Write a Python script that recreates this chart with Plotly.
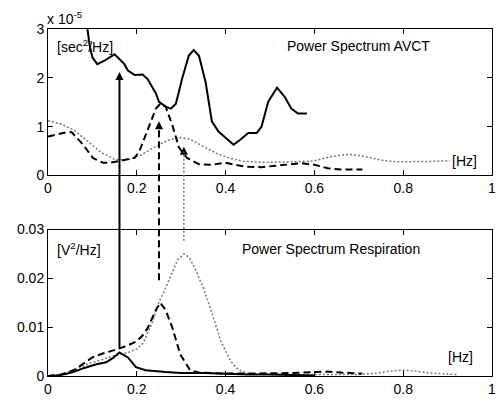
import plotly.graph_objects as go

# ---------------- data ----------------
# Top panel: Power Spectrum AVCT (values in units of 1e-5 sec^2/Hz)
top_solid_x = [0.083, 0.089, 0.094, 0.100, 0.111, 0.127, 0.15, 0.172, 0.18, 0.195, 0.213, 0.224,
               0.243, 0.25, 0.265, 0.277, 0.288, 0.302, 0.317, 0.328, 0.34, 0.355, 0.369, 0.384,
               0.40, 0.418, 0.433, 0.447, 0.451, 0.47, 0.481, 0.496, 0.516, 0.533, 0.548, 0.563, 0.583]
top_solid_y = [3.4, 3.0, 2.65, 2.42, 2.28, 2.35, 2.48, 2.28, 2.15, 2.06, 2.07, 1.98,
               1.68, 1.51, 1.41, 1.37, 1.47, 1.98, 2.45, 2.57, 2.45, 1.91, 1.11, 0.9,
               0.77, 0.63, 0.73, 0.83, 0.87, 0.87, 1.0, 1.51, 1.80, 1.61, 1.37, 1.27, 1.27]

top_dash_x = [0, 0.02, 0.04, 0.053, 0.079, 0.101, 0.124, 0.14, 0.16, 0.18, 0.195, 0.206, 0.228,
              0.243, 0.253, 0.265, 0.28, 0.295, 0.313, 0.34, 0.37, 0.40, 0.42, 0.447, 0.48,
              0.51, 0.54, 0.57, 0.6, 0.63, 0.66, 0.69, 0.708]
top_dash_y = [0.80, 0.84, 0.88, 0.89, 0.63, 0.36, 0.26, 0.26, 0.30, 0.33, 0.36, 0.50, 1.03,
              1.37, 1.47, 1.41, 1.03, 0.57, 0.36, 0.23, 0.22, 0.26, 0.22, 0.18, 0.17,
              0.2, 0.23, 0.25, 0.22, 0.15, 0.12, 0.12, 0.12]

top_dot_x = [0, 0.03, 0.06, 0.09, 0.12, 0.15, 0.18, 0.21, 0.24, 0.27, 0.295, 0.32, 0.35, 0.38,
             0.41, 0.44, 0.48, 0.52, 0.56, 0.6, 0.63, 0.66, 0.68, 0.70, 0.73, 0.76, 0.79,
             0.83, 0.87, 0.905]
top_dot_y = [1.12, 1.05, 0.92, 0.7, 0.47, 0.33, 0.32, 0.42, 0.58, 0.72, 0.78, 0.74, 0.6, 0.45,
             0.35, 0.29, 0.27, 0.27, 0.28, 0.3, 0.37, 0.42, 0.43, 0.41, 0.35, 0.3, 0.28,
             0.28, 0.29, 0.3]

# Bottom panel: Power Spectrum Respiration (V^2/Hz)
bot_solid_x = [0, 0.02, 0.04, 0.06, 0.08, 0.109, 0.131, 0.145, 0.161, 0.18, 0.198, 0.22,
               0.265, 0.3, 0.35, 0.4, 0.45, 0.5, 0.55, 0.6]
bot_solid_y = [0, 0.0001, 0.0004, 0.0009, 0.0016, 0.0024, 0.0028, 0.0036, 0.0048, 0.0038,
               0.0018, 0.0012, 0.0008, 0.0006, 0.0006, 0.0004, 0.0003, 0.0003, 0.0002, 0.0001]

bot_dash_x = [0, 0.03, 0.06, 0.08, 0.1, 0.12, 0.14, 0.16, 0.18, 0.2, 0.215, 0.225, 0.243,
              0.253, 0.265, 0.28, 0.298, 0.32, 0.34, 0.37, 0.4, 0.45, 0.5, 0.55, 0.6, 0.63,
              0.66, 0.69, 0.708]
bot_dash_y = [0, 0.0003, 0.0013, 0.0025, 0.0038, 0.0045, 0.005, 0.0056, 0.0063, 0.0071,
              0.0085, 0.0099, 0.0135, 0.015, 0.0135, 0.0099, 0.0044, 0.0012, 0.0007, 0.0006,
              0.0005, 0.0005, 0.0005, 0.0006, 0.0008, 0.0009, 0.0007, 0.0005, 0.0005]

bot_dot_x = [0, 0.03, 0.06, 0.09, 0.12, 0.15, 0.18, 0.2, 0.215, 0.235, 0.25, 0.261, 0.277,
             0.292, 0.306, 0.318, 0.33, 0.35, 0.365, 0.377, 0.39, 0.4, 0.41, 0.422, 0.435,
             0.45, 0.5, 0.6, 0.7, 0.74, 0.77, 0.8, 0.83, 0.86, 0.9, 0.92]
bot_dot_y = [0, 0.0003, 0.0012, 0.0025, 0.0033, 0.0042, 0.0048, 0.0055, 0.0068, 0.011,
             0.0152, 0.0172, 0.0206, 0.0238, 0.025, 0.0243, 0.0222, 0.018, 0.014, 0.0105,
             0.007, 0.0051, 0.0033, 0.0018, 0.001, 0.0005, 0.0003, 0.0003, 0.0003, 0.0006,
             0.001, 0.0012, 0.001, 0.0006, 0.0003, 0.0003]

# Arrows: frequency, start value (bottom panel), head value (top panel, 1e-5 units)
arrow_freq = [0.161, 0.25, 0.306]
arrow_start = [0.0057, 0.0196, 0.0277]
arrow_head = [2.12, 1.11, 0.59]

x_ticks = [0, 0.2, 0.4, 0.6, 0.8, 1]
x_ticklabels = ["0", "0.2", "0.4", "0.6", "0.8", "1"]
top_ticks = [0, 1, 2, 3]
top_ticklabels = ["0", "1", "2", "3"]
bot_ticks = [0, 0.01, 0.02, 0.03]
bot_ticklabels = ["0", "0.01", "0.02", "0.03"]

# ---------------- figure ----------------
FONT = "Liberation Sans, Arial, Helvetica, sans-serif"
W, H = 500, 401
M_L, M_R, M_T, M_B = 48, 4, 29, 19
PLOT_H = H - M_T - M_B
TOP_DOM = [0.5779, 1.0]
BOT_DOM = [0.0, 0.4221]
TOP_RANGE = [0, 3]
BOT_RANGE = [0, 0.03]

solid = dict(color="black", width=2)
dashed = dict(color="black", width=2, dash="7px,4px")
dotted = dict(color="#777777", width=1.5, dash="2px,2px")

fig = go.Figure()
fig.add_trace(go.Scatter(x=top_dot_x, y=top_dot_y, mode="lines", line=dotted, xaxis="x", yaxis="y"))
fig.add_trace(go.Scatter(x=top_dash_x, y=top_dash_y, mode="lines", line=dashed, xaxis="x", yaxis="y"))
fig.add_trace(go.Scatter(x=top_solid_x, y=top_solid_y, mode="lines", line=solid, xaxis="x", yaxis="y"))
fig.add_trace(go.Scatter(x=bot_dot_x, y=bot_dot_y, mode="lines", line=dotted, xaxis="x2", yaxis="y2"))
fig.add_trace(go.Scatter(x=bot_dash_x, y=bot_dash_y, mode="lines", line=dashed, xaxis="x2", yaxis="y2"))
fig.add_trace(go.Scatter(x=bot_solid_x, y=bot_solid_y, mode="lines", line=solid, xaxis="x2", yaxis="y2"))

axis_common = dict(showline=True, linecolor="black", linewidth=1, mirror="ticks",
                   ticks="inside", ticklen=5, tickcolor="black", showgrid=False,
                   zeroline=False, tickfont=dict(family=FONT, size=14, color="black"))

fig.update_layout(
    width=W, height=H,
    margin=dict(l=M_L, r=M_R, t=M_T, b=M_B),
    paper_bgcolor="white", plot_bgcolor="white",
    showlegend=False, hovermode=False,
    xaxis=dict(domain=[0, 1], range=[0, 1], anchor="y", tickvals=x_ticks,
               ticktext=x_ticklabels, ticklabeloverflow="allow", **axis_common),
    yaxis=dict(domain=TOP_DOM, range=TOP_RANGE, anchor="x", tickvals=top_ticks,
               ticktext=top_ticklabels, **axis_common),
    xaxis2=dict(domain=[0, 1], range=[0, 1], anchor="y2", tickvals=x_ticks,
                ticktext=x_ticklabels, ticklabeloverflow="allow", **axis_common),
    yaxis2=dict(domain=BOT_DOM, range=BOT_RANGE, anchor="x2", tickvals=bot_ticks,
                ticktext=bot_ticklabels, **axis_common),
)


def top_paper(v):
    return TOP_DOM[0] + (v - TOP_RANGE[0]) / (TOP_RANGE[1] - TOP_RANGE[0]) * (TOP_DOM[1] - TOP_DOM[0])


def bot_paper(v):
    return BOT_DOM[0] + (v - BOT_RANGE[0]) / (BOT_RANGE[1] - BOT_RANGE[0]) * (BOT_DOM[1] - BOT_DOM[0])


# arrow shafts (span both panels)
shaft_styles = [solid, dashed, dotted]
for f, s, h, st in zip(arrow_freq, arrow_start, arrow_head, shaft_styles):
    fig.add_shape(type="line", xref="x", yref="paper", x0=f, x1=f,
                  y0=bot_paper(s), y1=top_paper(h) - 5 / PLOT_H,
                  line=dict(color=st["color"], width=st["width"], dash=st.get("dash", "solid")))

# arrow heads (tip sits exactly at the data point)
fig.add_trace(go.Scatter(x=arrow_freq, y=arrow_head, mode="markers", xaxis="x", yaxis="y",
                         marker=dict(symbol="arrow-up", size=8, color="black",
                                     line=dict(width=0)),
                         cliponaxis=False))

txt = dict(family=FONT, size=14, color="black")
fig.add_annotation(xref="paper", yref="paper", x=0, y=1, xanchor="left", yanchor="bottom",
                   text="x 10<sup>-5</sup>", showarrow=False, font=txt, xshift=-3)
fig.add_annotation(xref="x", yref="y", x=0.015, y=2.65, xanchor="left", yanchor="middle",
                   text="[sec<sup>2</sup>/Hz]", showarrow=False, font=txt)
fig.add_annotation(xref="x", yref="y", x=0.70, y=2.65, xanchor="center", yanchor="middle",
                   text="Power Spectrum AVCT", showarrow=False, font=txt)
fig.add_annotation(xref="x", yref="y", x=0.905, y=0.30, xanchor="left", yanchor="middle",
                   text="[Hz]", showarrow=False, font=txt)
fig.add_annotation(xref="x2", yref="y2", x=0.015, y=0.026, xanchor="left", yanchor="middle",
                   text="[V<sup>2</sup>/Hz]", showarrow=False, font=txt)
fig.add_annotation(xref="x2", yref="y2", x=0.637, y=0.026, xanchor="center", yanchor="middle",
                   text="Power Spectrum Respiration", showarrow=False, font=txt)
fig.add_annotation(xref="x2", yref="y2", x=0.896, y=0.0038, xanchor="left", yanchor="middle",
                   text="[Hz]", showarrow=False, font=txt)

fig.write_html("out.html", config={"displayModeBar": False},
               post_script="document.body.style.margin='0px';")
